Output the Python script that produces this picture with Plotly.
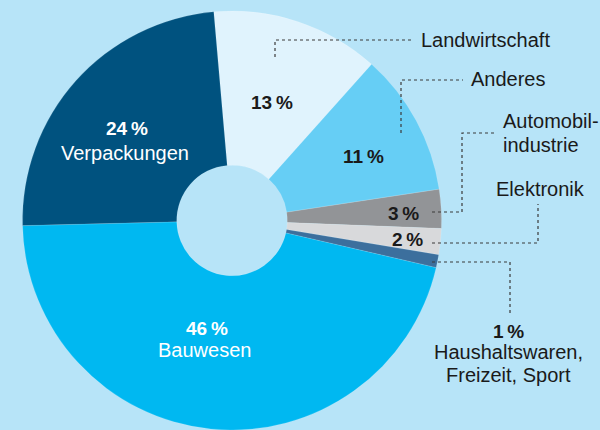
import plotly.graph_objects as go

# ---- data ----
categories = ["Landwirtschaft", "Anderes", "Automobilindustrie", "Elektronik",
              "Haushaltswaren, Freizeit, Sport", "Bauwesen", "Verpackungen"]
shares = [13, 11, 3, 2, 1, 46, 24]
pct_labels = ["13\u2009%", "11\u2009%", "3\u2009%", "2\u2009%", "1\u2009%", "46\u2009%", "24\u2009%"]
colors = ["#e0f3fd", "#66cef5", "#929497", "#d8d9db", "#3c6f9d", "#00b8f1", "#00527f"]

BG = "#b7e4f8"
W, H = 600, 430
FONT = "Liberation Sans, Arial, Helvetica, sans-serif"
DARK = "#1a1a1a"

fig = go.Figure()
fig.add_trace(go.Pie(
    labels=categories, values=shares, sort=False, direction="clockwise",
    rotation=-5, hole=0.264, textinfo="none", hoverinfo="label+percent",
    marker=dict(colors=colors, line=dict(color="rgba(255,255,255,0.25)", width=0.5)),
    domain=dict(x=[(232 - 210) / W, (232 + 210) / W], y=[0, 419 / H]),
    showlegend=False,
))

# invisible pixel-space axes for labels and leader lines
fig.update_xaxes(range=[0, W], visible=False, fixedrange=True)
fig.update_yaxes(range=[H, 0], visible=False, fixedrange=True)

def txt(x, y, s, color=DARK, bold=False, size=20, anchor="center"):
    if bold:
        s = "<b>" + s + "</b>"
        size = 19
    fig.add_annotation(x=x, y=y, text=s, showarrow=False, xanchor=anchor,
                       yanchor="middle", font=dict(family=FONT, size=size, color=color))

# inside labels
txt(127, 128, pct_labels[6], "white", True)
txt(125, 153, "Verpackungen", "white")
txt(272, 102, pct_labels[0], DARK, True)
txt(363, 156, pct_labels[1], DARK, True)
txt(403, 213, pct_labels[2], DARK, True)
txt(407, 239, pct_labels[3], DARK, True)
txt(207, 328, pct_labels[5], "white", True)
txt(204, 350, "Bauwesen", "white")

# outside labels
txt(419, 40, "Landwirtschaft", anchor="left")
txt(469, 79, "Anderes", anchor="left")
txt(501, 121, "Automobil-", anchor="left")
txt(501, 145, "industrie", anchor="left")
txt(494, 189, "Elektronik", anchor="left")
txt(508, 331, pct_labels[4], DARK, True)
txt(508, 352, "Haushaltswaren,", DARK)
txt(508, 375, "Freizeit, Sport", DARK)

# leader lines (drawn above the pie)
leaders = [
    [(275, 57), (275, 40), (412, 40)],
    [(401, 133), (401, 80), (463, 80)],
    [(432, 212), (462, 212), (462, 133), (494, 133)],
    [(432, 243), (538, 243), (538, 204)],
    [(432, 262), (510, 262), (510, 316)],
]
for pts in leaders:
    path = "M " + " L ".join(f"{x},{y}" for x, y in pts)
    fig.add_shape(type="path", path=path, xref="x", yref="y", layer="above",
                  line=dict(color="#3a3a3a", width=1.2, dash="dot"))

fig.update_layout(width=W, height=H, margin=dict(l=0, r=0, t=0, b=0),
                  paper_bgcolor=BG, plot_bgcolor="rgba(0,0,0,0)")
fig.write_html("out.html", config={"displayModeBar": False},
               post_script="document.body.style.margin='0';document.body.style.background='" + BG + "';")
